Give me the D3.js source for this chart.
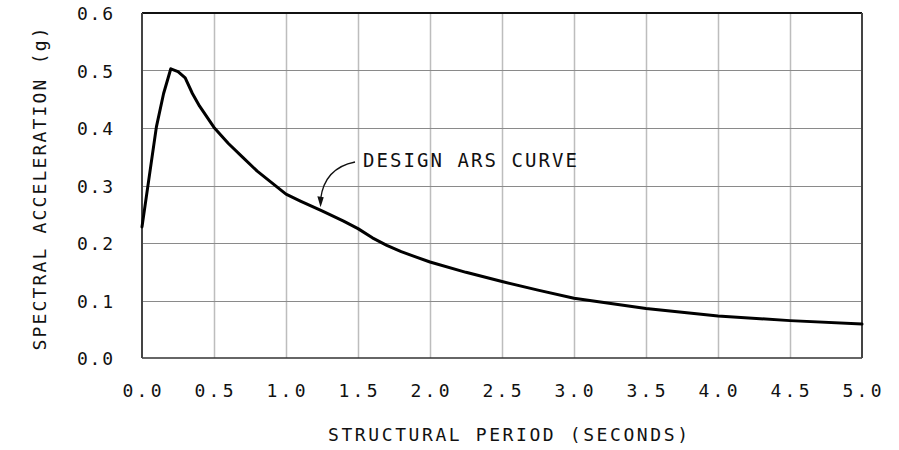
<!DOCTYPE html>
<html>
<head>
<meta charset="utf-8">
<script src="https://cdn.jsdelivr.net/npm/d3@7"></script>
<style>
  html, body { margin: 0; padding: 0; background: #fff; }
  svg text { font-family: "DejaVu Sans Mono", "Liberation Mono", monospace; fill: #111; }
</style>
</head>
<body>
<svg id="chart" width="899" height="450"></svg>
<script>
// ---- data ----
const periods = [0, 0.1, 0.15, 0.2, 0.25, 0.3, 0.35, 0.4, 0.5, 0.6, 0.7, 0.8, 0.9, 1.0, 1.1, 1.25, 1.4, 1.5, 1.6, 1.7, 1.8, 1.9, 2.0, 2.25, 2.5, 2.75, 3.0, 3.5, 4.0, 4.5, 5.0];
const accel   = [0.228, 0.402, 0.460, 0.503, 0.498, 0.487, 0.460, 0.438, 0.401, 0.373, 0.349, 0.325, 0.305, 0.285, 0.273, 0.256, 0.238, 0.225, 0.209, 0.196, 0.185, 0.176, 0.167, 0.149, 0.133, 0.118, 0.104, 0.086, 0.073, 0.065, 0.059];
const xTicks = [0, 0.5, 1.0, 1.5, 2.0, 2.5, 3.0, 3.5, 4.0, 4.5, 5.0];
const yTicks = [0, 0.1, 0.2, 0.3, 0.4, 0.5, 0.6];
const xTitle = "STRUCTURAL PERIOD (SECONDS)";
const yTitle = "SPECTRAL ACCELERATION (g)";
const annotation = "DESIGN ARS CURVE";
const annotationT = 1.24;

const svg = d3.select("#chart");
const L = 142, R = 862, T = 13, B = 358;
const x = d3.scaleLinear().domain([0, 5]).range([L, R]);
const y = d3.scaleLinear().domain([0, 0.6]).range([B, T]);

// vertical grid
svg.append("g").selectAll("line").data(xTicks.slice(1, -1)).join("line")
  .attr("x1", d => Math.round(x(d)) + 0.5).attr("x2", d => Math.round(x(d)) + 0.5)
  .attr("y1", T).attr("y2", B)
  .attr("stroke", "#bdbdbd").attr("stroke-width", 1.5);
// horizontal grid
svg.append("g").selectAll("line").data(yTicks.slice(1, -1)).join("line")
  .attr("x1", L).attr("x2", R)
  .attr("y1", d => Math.round(y(d)) + 0.5).attr("y2", d => Math.round(y(d)) + 0.5)
  .attr("stroke", "#8a8a8a").attr("stroke-width", 1.2);

// frame
svg.append("line").attr("x1", L).attr("x2", R).attr("y1", T).attr("y2", T).attr("stroke", "#111").attr("stroke-width", 2);
svg.append("line").attr("x1", L).attr("x2", R).attr("y1", B).attr("y2", B).attr("stroke", "#333").attr("stroke-width", 1.6);
svg.append("line").attr("x1", L).attr("x2", L).attr("y1", T).attr("y2", B).attr("stroke", "#444").attr("stroke-width", 2);
svg.append("line").attr("x1", R).attr("x2", R).attr("y1", T).attr("y2", B).attr("stroke", "#444").attr("stroke-width", 2);

// tick labels
svg.append("g").selectAll("text").data(xTicks).join("text")
  .attr("x", d => x(d)).attr("y", 397)
  .attr("text-anchor", "middle").attr("font-size", 18)
  .attr("textLength", 39).attr("lengthAdjust", "spacing")
  .text(d => d.toFixed(1));
svg.append("g").selectAll("text").data(yTicks).join("text")
  .attr("x", 113).attr("y", d => y(d) + 7)
  .attr("text-anchor", "end").attr("font-size", 18)
  .attr("textLength", 36).attr("lengthAdjust", "spacing")
  .text(d => d.toFixed(1));

// axis titles
svg.append("text").attr("x", 508).attr("y", 441)
  .attr("text-anchor", "middle").attr("font-size", 18)
  .attr("textLength", 360).attr("lengthAdjust", "spacing")
  .text(xTitle);
svg.append("text").attr("transform", "translate(46,189) rotate(-90)")
  .attr("text-anchor", "middle").attr("font-size", 18)
  .attr("textLength", 323).attr("lengthAdjust", "spacing")
  .text(yTitle);

// curve
const line = d3.line().x((d, i) => x(periods[i])).y(d => y(d)).curve(d3.curveLinear);
svg.append("path").datum(accel).attr("d", line)
  .attr("fill", "none").attr("stroke", "#000").attr("stroke-width", 3)
  .attr("stroke-linejoin", "round").attr("stroke-linecap", "round");

// annotation
const ai = d3.bisectLeft(periods, annotationT);
const aVal = accel[ai - 1] + (accel[ai] - accel[ai - 1]) * (annotationT - periods[ai - 1]) / (periods[ai] - periods[ai - 1]);
const tipX = x(annotationT), tipY = y(aVal) - 3;
svg.append("text").attr("x", 363).attr("y", 167).attr("font-size", 19)
  .attr("textLength", 214).attr("lengthAdjust", "spacing")
  .text(annotation);
svg.append("path")
  .attr("d", `M355,162 Q${tipX + 4},168 ${tipX},${tipY - 8}`)
  .attr("fill", "none").attr("stroke", "#111").attr("stroke-width", 1.3);
svg.append("path")
  .attr("d", `M${tipX},${tipY} L${tipX - 3.2},${tipY - 11} L${tipX + 3.2},${tipY - 10} Z`)
  .attr("fill", "#111");
</script>
</body>
</html>
